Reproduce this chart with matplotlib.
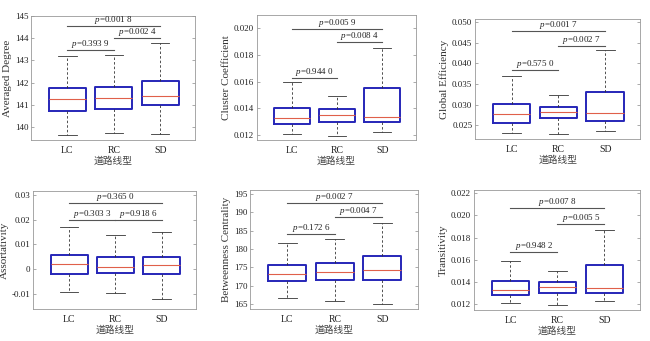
import matplotlib
matplotlib.use('Agg')
import matplotlib.pyplot as plt

plt.rcParams['font.family'] = ['Liberation Serif', 'Noto Sans CJK SC']
plt.rcParams['mathtext.fontset'] = 'custom'
plt.rcParams['mathtext.rm'] = 'Liberation Serif'
plt.rcParams['mathtext.it'] = 'Liberation Serif:italic'
plt.rcParams['font.size'] = 6.5

groups = ['LC', 'RC', 'SD']
xlabel = '道路线型'

# each row: whisker low, Q1, median, Q3, whisker high  (LC, RC, SD)
degree = [[139.61, 140.71, 141.27, 141.77, 143.18],
          [139.74, 140.82, 141.28, 141.82, 143.23],
          [139.70, 140.97, 141.41, 142.09, 143.79]]
cluster = [[0.01208, 0.01283, 0.01328, 0.01404, 0.01595],
           [0.01192, 0.01298, 0.01349, 0.01392, 0.01494],
           [0.01223, 0.01296, 0.01334, 0.01551, 0.01853]]
glob_eff = [[0.02306, 0.02563, 0.02774, 0.03020, 0.03689],
            [0.02282, 0.02677, 0.02832, 0.02951, 0.03245],
            [0.02347, 0.02610, 0.02791, 0.03295, 0.04318]]
assort = [[-0.0095, -0.0019, 0.0019, 0.0058, 0.0170],
          [-0.0098, -0.0017, 0.0009, 0.0049, 0.0136],
          [-0.0121, -0.0021, 0.0015, 0.0047, 0.0148]]
between = [[166.5, 171.3, 173.2, 175.6, 181.5],
           [165.9, 171.6, 173.7, 176.1, 182.6],
           [165.0, 171.6, 174.2, 178.0, 187.2]]
trans = [[0.01212, 0.01284, 0.01329, 0.01410, 0.01595],
         [0.01194, 0.01302, 0.01356, 0.01398, 0.01499],
         [0.01227, 0.01302, 0.01344, 0.01556, 0.01868]]

# p values for pairs (LC-RC, RC-SD, LC-SD) and the height of each bracket
degree_p = ['0.393 9', '0.002 4', '0.001 8']
degree_py = [143.47, 144.00, 144.53]
cluster_p = ['0.944 0', '0.008 4', '0.005 9']
cluster_py = [0.01630, 0.01900, 0.01995]
glob_p = ['0.575 0', '0.002 7', '0.001 7']
glob_py = [0.03842, 0.04425, 0.04789]
assort_p = ['0.303 3', '0.918 6', '0.365 0']
assort_py = [0.0198, 0.0198, 0.0267]
between_p = ['0.172 6', '0.004 7', '0.002 7']
between_py = [184.1, 188.75, 192.5]
trans_p = ['0.948 2', '0.005 5', '0.007 8']
trans_py = [0.0167, 0.01922, 0.02071]

panels = [
    ('Averaged Degree', degree, degree_p, degree_py, (139.4, 145.0),
     [140, 141, 142, 143, 144, 145], ['140', '141', '142', '143', '144', '145']),
    ('Cluster Coefficient', cluster, cluster_p, cluster_py, (0.0116, 0.0210),
     [0.012, 0.014, 0.016, 0.018, 0.020], ['0.012', '0.014', '0.016', '0.018', '0.020']),
    ('Global Efficiency', glob_eff, glob_p, glob_py, (0.0216, 0.0508),
     [0.025, 0.030, 0.035, 0.040, 0.045, 0.050],
     ['0.025', '0.030', '0.035', '0.040', '0.045', '0.050']),
    ('Assortativity', assort, assort_p, assort_py, (-0.0162, 0.0316),
     [-0.01, 0, 0.01, 0.02, 0.03], ['-0.01', '0', '0.01', '0.02', '0.03']),
    ('Betweenness Centrality', between, between_p, between_py, (163.6, 196.1),
     [165, 170, 175, 180, 185, 190, 195], ['165', '170', '175', '180', '185', '190', '195']),
    ('Transitivity', trans, trans_p, trans_py, (0.0115, 0.0223),
     [0.012, 0.014, 0.016, 0.018, 0.020, 0.022],
     ['0.012', '0.014', '0.016', '0.018', '0.020', '0.022']),
]

# axes rectangles in figure fraction
rects = [[0.048, 0.589, 0.252, 0.364],
         [0.395, 0.589, 0.245, 0.367],
         [0.731, 0.592, 0.254, 0.352],
         [0.051, 0.094, 0.251, 0.346],
         [0.385, 0.094, 0.258, 0.349],
         [0.729, 0.091, 0.255, 0.352]]

fig = plt.figure(figsize=(6.5, 3.41), dpi=100)

for rect, (ylab, rows, pvals, py, ylim, yt, ytl) in zip(rects, panels):
    ax = fig.add_axes(rect)
    stats = []
    for name, r in zip(groups, rows):
        stats.append({'label': name, 'whislo': r[0], 'q1': r[1], 'med': r[2],
                      'q3': r[3], 'whishi': r[4], 'fliers': []})
    ax.bxp(stats, positions=[1, 2, 3], widths=0.8, showfliers=False,
           boxprops=dict(color='#2626b8', linewidth=1.4),
           medianprops=dict(color='#e0604a', linewidth=0.8),
           whiskerprops=dict(color='#333333', linewidth=0.6, linestyle=(0, (3, 2.5))),
           capprops=dict(color='#333333', linewidth=0.6))

    pairs = [(1, 2), (2, 3), (1, 3)]
    for (a, b), pv, y in zip(pairs, pvals, py):
        ax.plot([a, b], [y, y], color='#555555', linewidth=0.8)
        ax.text((a + b) / 2, y, r'$p$=' + pv, ha='center', va='bottom',
                fontsize=6.5, color='#222222')

    ax.set_xlim(0.22, 3.75)
    ax.set_ylim(*ylim)
    ax.set_yticks(yt)
    ax.set_yticklabels(ytl)
    ax.set_xticks([1, 2, 3])
    ax.set_xticklabels(groups, fontsize=7)
    ax.set_ylabel(ylab, fontsize=8, labelpad=2, color='#333333')
    ax.set_xlabel(xlabel, fontsize=7, labelpad=1, color='#444444')
    ax.tick_params(axis='y', direction='in', length=2, width=0.5, right=True,
                   color='#888888', labelcolor='#222222', pad=2)
    ax.tick_params(axis='x', length=0, labelcolor='#222222', pad=4)
    for s in ax.spines.values():
        s.set_color('#999999')
        s.set_linewidth(0.6)

fig.savefig('out.png', dpi=100)
